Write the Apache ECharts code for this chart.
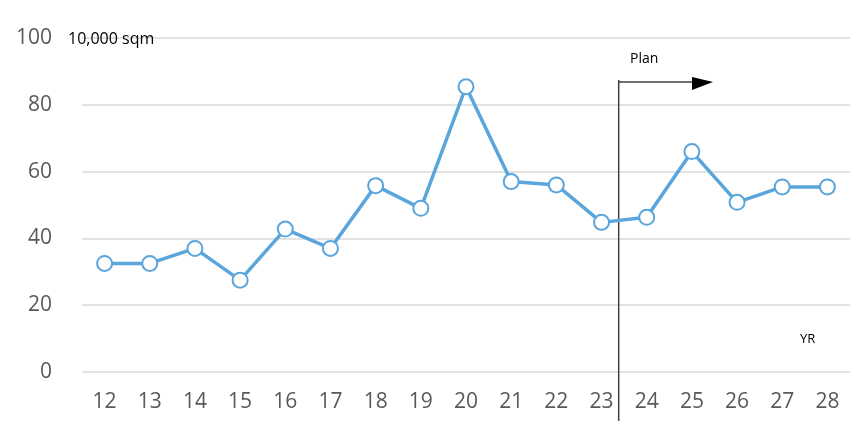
<!DOCTYPE html>
<html><head><meta charset="utf-8">
<script src="https://cdn.jsdelivr.net/npm/echarts@6/dist/echarts.min.js"></script>
<style>html,body{margin:0;background:#fff}#c{width:864px;height:421px}</style>
</head><body><div id="c"></div>
<script>
const categories = ['12','13','14','15','16','17','18','19','20','21','22','23','24','25','26','27','28'];
const values = [32.5,32.5,37,27.5,42.8,37,55.8,49,85.4,57,56,44.8,46.3,66,50.8,55.4,55.4];
const yTicks = [0,20,40,60,80,100];
const chart = echarts.init(document.getElementById('c'));
chart.setOption({
  animation:false,
  grid:{left:82,right:14,top:38,bottom:49},
  xAxis:{type:'category',data:categories,axisLine:{show:false},axisTick:{show:false},
    axisLabel:{color:'#595959',fontSize:21,margin:20,fontFamily:'Open Sans'}},
  yAxis:{type:'value',min:yTicks[0],max:yTicks[yTicks.length-1],interval:20,
    axisLabel:{color:'#595959',fontSize:21,margin:30,fontFamily:'Open Sans'},
    splitLine:{lineStyle:{color:'#d9d9d9',width:1.5}}},
  series:[{type:'line',data:values,symbol:'circle',symbolSize:15,
    lineStyle:{color:'#5aa5dc',width:3.5},
    itemStyle:{color:'#fff',borderColor:'#5aa5dc',borderWidth:2}}]
});
const xa = chart.convertToPixel({xAxisIndex:0},'23'), xb = chart.convertToPixel({xAxisIndex:0},'24');
const xm = xa + 0.38*(xb-xa);
chart.setOption({graphic:[
  {type:'line',shape:{x1:xm,y1:80,x2:xm,y2:421},style:{stroke:'#404040',lineWidth:1.5}},
  {type:'line',shape:{x1:xm,y1:82,x2:695,y2:82},style:{stroke:'#404040',lineWidth:1.5}},
  {type:'polygon',shape:{points:[[692,77],[713,82],[692,90]]},style:{fill:'#000'}},
  {type:'text',x:630,y:52,style:{text:'Plan',fontSize:14,fill:'#000',fontFamily:'Open Sans'}},
  {type:'text',x:68,y:31,style:{text:'10,000 sqm',fontSize:16,fill:'#000',fontFamily:'Open Sans'}},
  {type:'text',x:800,y:333,style:{text:'YR',fontSize:13,fill:'#000',fontFamily:'Open Sans'}}
]});
</script></body></html>
